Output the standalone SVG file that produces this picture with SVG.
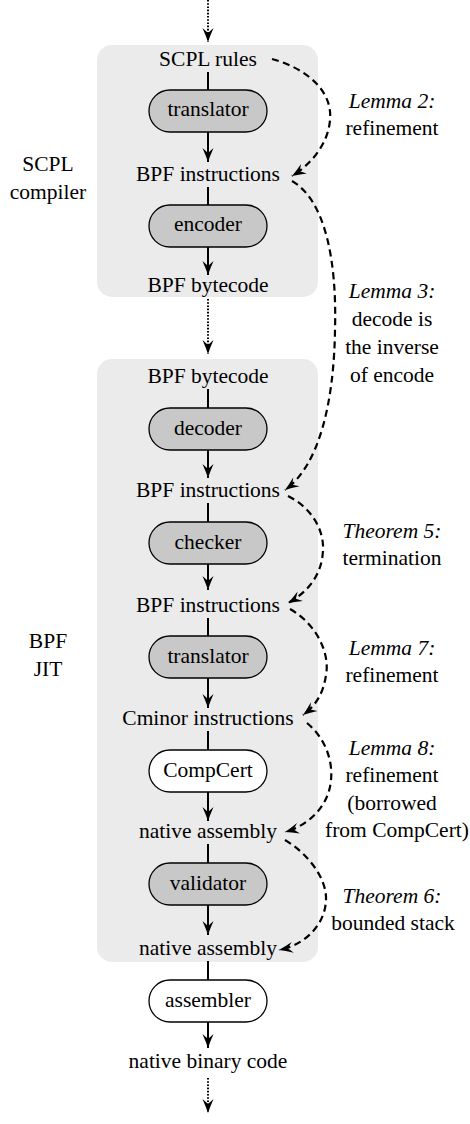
<svg xmlns="http://www.w3.org/2000/svg" width="470" height="1124" viewBox="0 0 470 1124">
<style>
  text { font-family: "Liberation Serif", "Times New Roman", serif; font-size: 21.5px; fill: #000; }
  .c { text-anchor: middle; }
  .it { font-style: italic; }
  .bg { fill: #ebebeb; stroke: none; }
  .box { fill: #c8c8c8; stroke: #000; stroke-width: 1.3; }
  .wbox { fill: #ffffff; stroke: #000; stroke-width: 1.3; }
  .solid { fill: none; stroke: #000; stroke-width: 2; }
  .dot { fill: none; stroke: #000; stroke-width: 2; stroke-dasharray: 1.6 1.6; }
  .dash { fill: none; stroke: #000; stroke-width: 2.2; stroke-dasharray: 7 4.5; }
</style>
<defs>
  <marker id="ah" markerUnits="userSpaceOnUse" markerWidth="18" markerHeight="16" viewBox="-16 -8 18 16" refX="0" refY="0" orient="auto">
    <path d="M0,0 Q-6,-2 -14,-5.5 L-9,0 L-14,5.5 Q-6,2 0,0 Z" fill="#000"/>
  </marker>
</defs>
<g id="scpl-compiler">
  <rect class="bg" x="97" y="45" width="221" height="252" rx="15"/>
  <text class="c" x="48" y="171">SCPL</text>
  <text class="c" x="48" y="199">compiler</text>
</g>
<g id="bpf-jit">
  <rect class="bg" x="97" y="359" width="221" height="603" rx="15"/>
  <text class="c" x="48" y="648">BPF</text>
  <text class="c" x="48" y="676">JIT</text>
</g>

<g id="connectors">
  <path class="dot" d="M208,0 V42" marker-end="url(#ah)"/>
  <path class="solid" d="M208,72 V90"/>
  <path class="solid" d="M208,132 V162" marker-end="url(#ah)"/>
  <path class="solid" d="M208,187 V205"/>
  <path class="solid" d="M208,247 V275" marker-end="url(#ah)"/>
  <path class="dot" d="M208,299 V354" marker-end="url(#ah)"/>
  <path class="solid" d="M208,389 V408"/>
  <path class="solid" d="M208,450 V478" marker-end="url(#ah)"/>
  <path class="solid" d="M208,503 V522"/>
  <path class="solid" d="M208,564 V590" marker-end="url(#ah)"/>
  <path class="solid" d="M208,618 V636"/>
  <path class="solid" d="M208,678 V708" marker-end="url(#ah)"/>
  <path class="solid" d="M208,731 V750"/>
  <path class="solid" d="M208,792 V821" marker-end="url(#ah)"/>
  <path class="solid" d="M208,844 V863"/>
  <path class="solid" d="M208,905 V935" marker-end="url(#ah)"/>
  <path class="solid" d="M208,961 V980"/>
  <path class="solid" d="M208,1022 V1048" marker-end="url(#ah)"/>
  <path class="dot" d="M208,1078 V1113" marker-end="url(#ah)"/>

  <path class="dash" d="M272,59 C305,68 333,90 330,120 C328,145 310,165 292,176" marker-end="url(#ah)"/>
  <path class="dash" d="M292,181 C325,200 337,260 335,330 C334,400 320,465 285,490" marker-end="url(#ah)"/>
  <path class="dash" d="M288,496 C312,508 324,530 323,550 C322,575 308,592 288,603" marker-end="url(#ah)"/>
  <path class="dash" d="M290,609 C318,625 330,655 326,675 C323,695 315,706 303,715" marker-end="url(#ah)"/>
  <path class="dash" d="M307,723 C325,738 333,760 331,780 C329,805 310,825 285,832" marker-end="url(#ah)"/>
  <path class="dash" d="M285,840 C310,855 327,880 326,900 C325,925 305,945 279,950" marker-end="url(#ah)"/>
</g>

<g id="t-scpl-rules"><text class="c" x="208" y="66">SCPL rules</text></g>
<g id="t-bpf-instr-1"><text class="c" x="208" y="181">BPF instructions</text></g>
<g id="t-bpf-bytecode-1"><text class="c" x="208" y="292">BPF bytecode</text></g>
<g id="t-bpf-bytecode-2"><text class="c" x="208" y="383">BPF bytecode</text></g>
<g id="t-bpf-instr-2"><text class="c" x="208" y="497">BPF instructions</text></g>
<g id="t-bpf-instr-3"><text class="c" x="208" y="612">BPF instructions</text></g>
<g id="t-cminor"><text class="c" x="208" y="725">Cminor instructions</text></g>
<g id="t-native-asm-1"><text class="c" x="208" y="838">native assembly</text></g>
<g id="t-native-asm-2"><text class="c" x="208" y="955">native assembly</text></g>
<g id="t-native-bin"><text class="c" x="208" y="1068">native binary code</text></g>

<g id="n-translator-1"><rect class="box" x="149" y="90" width="118" height="42" rx="21"/><text class="c" x="208" y="116">translator</text></g>
<g id="n-encoder"><rect class="box" x="149" y="205" width="118" height="42" rx="21"/><text class="c" x="208" y="231">encoder</text></g>
<g id="n-decoder"><rect class="box" x="149" y="408" width="118" height="42" rx="21"/><text class="c" x="208" y="435">decoder</text></g>
<g id="n-checker"><rect class="box" x="149" y="522" width="118" height="42" rx="21"/><text class="c" x="208" y="549">checker</text></g>
<g id="n-translator-2"><rect class="box" x="149" y="636" width="118" height="42" rx="21"/><text class="c" x="208" y="663">translator</text></g>
<g id="n-compcert"><rect class="wbox" x="149" y="750" width="118" height="42" rx="21"/><text class="c" x="208" y="777">CompCert</text></g>
<g id="n-validator"><rect class="box" x="149" y="863" width="118" height="42" rx="21"/><text class="c" x="208" y="890">validator</text></g>
<g id="n-assembler"><rect class="wbox" x="149" y="980" width="118" height="42" rx="21"/><text class="c" x="208" y="1007">assembler</text></g>

<g id="a-lemma2">
  <text class="c it" x="392" y="108">Lemma 2:</text>
  <text class="c" x="392" y="135">refinement</text>
</g>
<g id="a-lemma3">
  <text class="c it" x="392" y="298">Lemma 3:</text>
  <text class="c" x="392" y="326">decode is</text>
  <text class="c" x="392" y="354">the inverse</text>
  <text class="c" x="392" y="382">of encode</text>
</g>
<g id="a-theorem5">
  <text class="c it" x="392" y="538">Theorem 5:</text>
  <text class="c" x="392" y="565">termination</text>
</g>
<g id="a-lemma7">
  <text class="c it" x="392" y="655">Lemma 7:</text>
  <text class="c" x="392" y="682">refinement</text>
</g>
<g id="a-lemma8">
  <text class="c it" x="392" y="755">Lemma 8:</text>
  <text class="c" x="392" y="782">refinement</text>
  <text class="c" x="392" y="810">(borrowed</text>
  <text class="c" x="397" y="837">from CompCert)</text>
</g>
<g id="a-theorem6">
  <text class="c it" x="392" y="903">Theorem 6:</text>
  <text class="c" x="393" y="930">bounded stack</text>
</g>
</svg>
